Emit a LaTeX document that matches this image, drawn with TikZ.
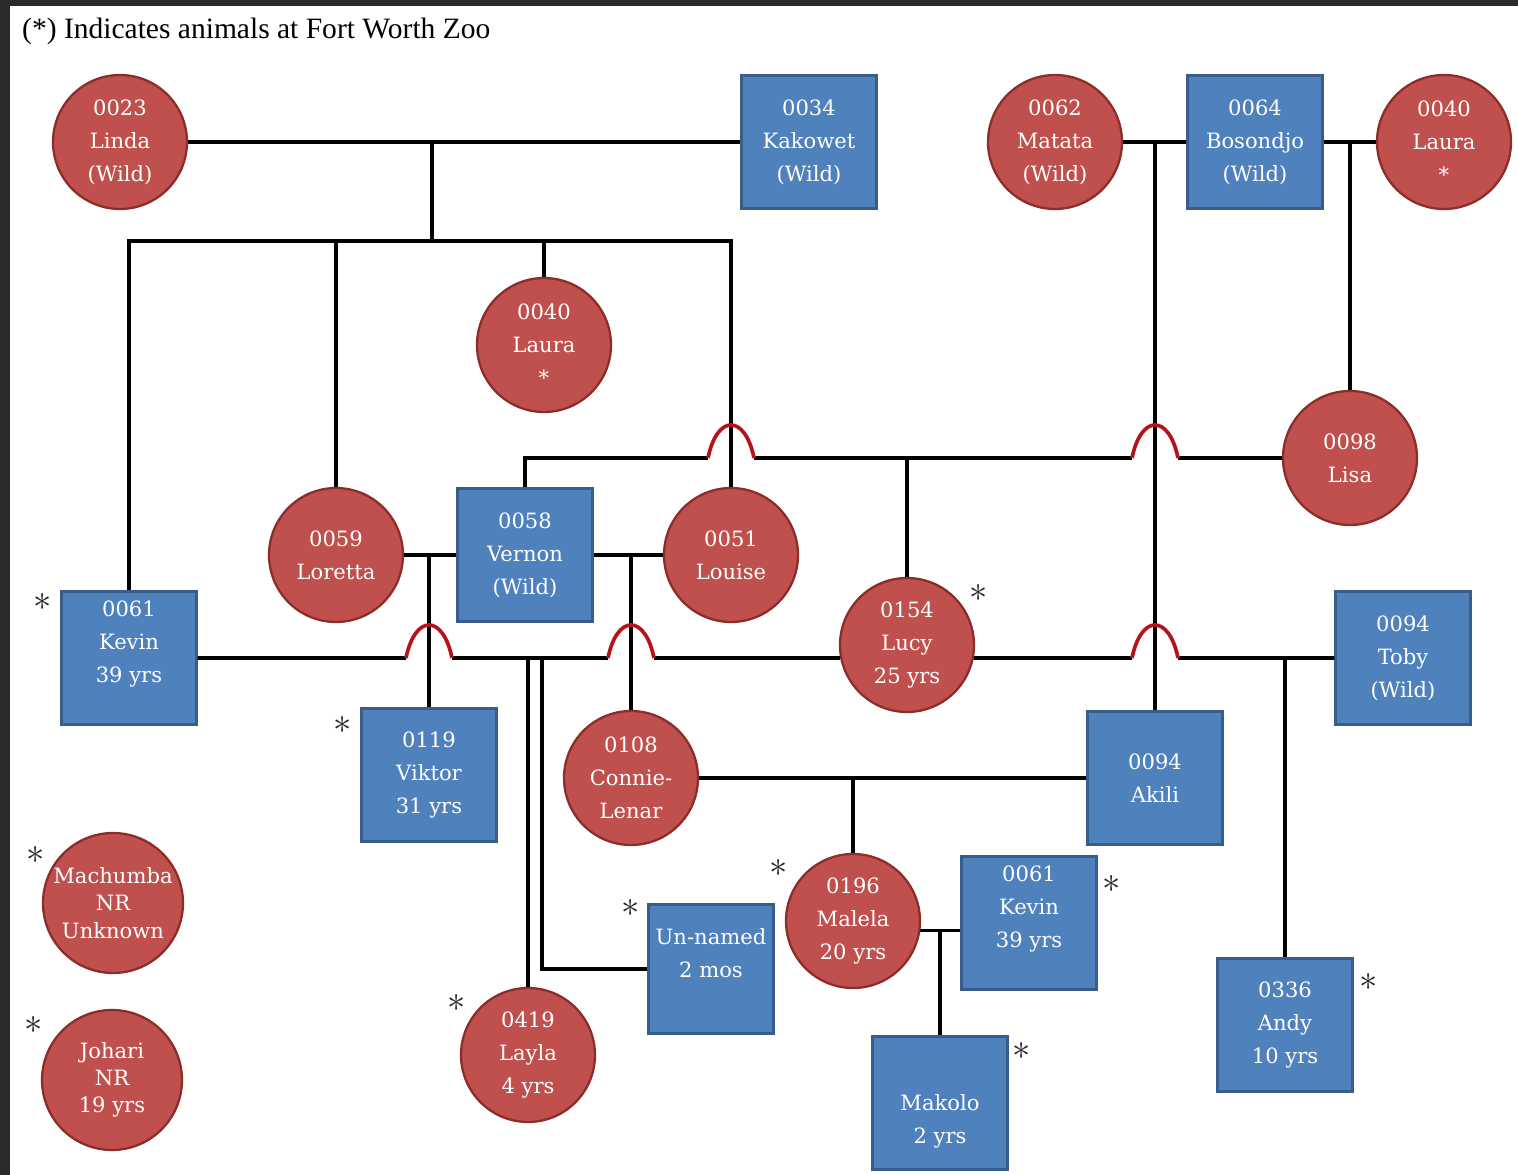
\documentclass[tikz,border=0pt]{standalone}
\usepackage{fontspec}
\setmainfont{Liberation Serif}
\newfontfamily\slabfont{DejaVu Serif}
\usepackage{tikz}
\usetikzlibrary{calc}
\definecolor{femfill}{RGB}{192,80,77}
\definecolor{femline}{RGB}{140,45,42}
\definecolor{malefill}{RGB}{79,129,189}
\definecolor{maleline}{RGB}{56,93,138}
\definecolor{hopred}{RGB}{180,20,25}
\definecolor{edgegray}{RGB}{40,42,44}
\newcommand{\hopover}[1]{\draw[hop] ($(#1)+(-23,0)$) .. controls ($(#1)+(-14,-44)$) and ($(#1)+(14,-44)$) .. ($(#1)+(23,0)$);}

\begin{document}
\begin{tikzpicture}[
  x=0.02cm,y=-0.02cm,
  fem/.style={circle,draw=femline,fill=femfill,line width=1.3pt,minimum size=2.68cm,inner sep=0pt,align=center,text=white,font=\slabfont\fontsize{12}{18.7}\selectfont},
  male/.style={rectangle,draw=maleline,fill=malefill,line width=1.3pt,minimum width=2.7cm,minimum height=2.66cm,inner sep=0pt,align=center,text=white,font=\slabfont\fontsize{12}{18.7}\selectfont},
  kin/.style={draw=black,line width=2.1pt},
  hop/.style={draw=hopred,line width=2.1pt},
  ast/.style={inner sep=0pt,text=black!85,font=\fontsize{20}{20}\selectfont}
    ]
    \useasboundingbox (0,0) rectangle (1518,1175);
    \fill[edgegray] (0,0) rectangle (1518,1175);
    \fill[white] (10,6) rectangle (1518,1175);
    \node[anchor=west,font=\fontsize{16.8}{20}\selectfont] (title) at (16,31) {(*) Indicates animals at Fort Worth Zoo};

    \node[fem] (linda) at (120,142) {0023\\Linda\\(Wild)};
    \node[male] (kakowet) at (809,142) {0034\\Kakowet\\(Wild)};
    \node[fem] (matata) at (1055,142) {0062\\Matata\\(Wild)};
    \node[male] (bosondjo) at (1255,142) {0064\\Bosondjo\\(Wild)};
    \node[fem] (lauraA) at (1444,142) {0040\\Laura\\*};
    \node[fem] (lauraB) at (544,345) {0040\\Laura\\*};
    \node[fem] (lisa) at (1350,458) {0098\\Lisa};
    \node[fem] (loretta) at (336,555) {0059\\Loretta};
    \node[male] (vernon) at (525,555) {0058\\Vernon\\(Wild)};
    \node[fem] (louise) at (731,555) {0051\\Louise};
    \node[male] (kevinA) at (129,658) {0061\\Kevin\\39 yrs\\\mbox{}};
    \node[fem] (lucy) at (907,645) {0154\\Lucy\\25 yrs};
    \node[male] (toby) at (1403,658) {0094\\Toby\\(Wild)};
    \node[male] (viktor) at (429,775) {0119\\Viktor\\31 yrs};
    \node[fem] (connie) at (631,778) {0108\\Connie-\\Lenar};
    \node[male] (akili) at (1155,778) {0094\\Akili};
    \node[fem,minimum size=2.8cm,font=\slabfont\fontsize{12}{15.5}\selectfont] (machumba) at (113,903) {Machumba\\NR\\Unknown};
    \node[fem,minimum size=2.8cm,font=\slabfont\fontsize{12}{15.5}\selectfont] (johari) at (112,1080) {Johari\\NR\\19 yrs};
    \node[fem] (malela) at (853,921) {0196\\Malela\\20 yrs};
    \node[male] (kevinB) at (1029,923) {0061\\Kevin\\39 yrs\\\mbox{}};
    \node[male,minimum width=2.5cm,minimum height=2.58cm] (unnamed) at (711,969) {Un-named\\2 mos\\\mbox{}};
    \node[fem] (layla) at (528,1055) {0419\\Layla\\4 yrs};
    \node[male] (makolo) at (940,1103) {\mbox{}\\[11pt]Makolo\\2 yrs};
    \node[male] (andy) at (1285,1025) {0336\\Andy\\10 yrs};

    \node[ast] (kevinAast) at (43,602) {$\ast$};
    \node[ast] (viktorast) at (343,725) {$\ast$};
    \node[ast] (lucyast) at (979,593) {$\ast$};
    \node[ast] (machumbaast) at (36,855) {$\ast$};
    \node[ast] (johariast) at (34,1025) {$\ast$};
    \node[ast] (malelaast) at (779,868) {$\ast$};
    \node[ast] (kevinBast) at (1112,884) {$\ast$};
    \node[ast] (unnamedast) at (631,908) {$\ast$};
    \node[ast] (laylaast) at (457,1003) {$\ast$};
    \node[ast] (makoloast) at (1022,1051) {$\ast$};
    \node[ast] (andyast) at (1369,982) {$\ast$};

    \coordinate (j0) at (432,142);
    \coordinate (b0) at (432,241);
    \coordinate (j1) at (1155,142);
    \coordinate (j2) at (1350,142);
    \coordinate (j3) at (907,458);
    \coordinate (j4) at (429,555);
    \coordinate (j5) at (631,555);
    \coordinate (j6) at (528,658);
    \coordinate (j7) at (542,658);
    \coordinate (j8) at (1285,658);
    \coordinate (j9) at (853,778);
    \coordinate (j10) at (940,932);
    \coordinate (h1) at (731,458);
    \coordinate (h2) at (1155,458);
    \coordinate (h3) at (429,658);
    \coordinate (h4) at (631,658);
    \coordinate (h5) at (1155,658);

    \path[kin] (linda) edge (kakowet)
    (matata) edge (bosondjo)
    (bosondjo) edge (lauraA)
    (loretta) edge (vernon)
    (vernon) edge (louise)
    (connie) edge (akili)
    (j0) edge (b0)
    (j1) edge (akili)
    (j2) edge (lisa)
    (j3) edge (lucy)
    (j4) edge (viktor)
    (j5) edge (connie)
    (j6) edge (layla)
    (j8) edge (andy)
    (j9) edge (malela)
    (j10) edge (makolo);
    \draw[kin] (kevinA.north) |- (b0) -| (louise.north);
    \draw[kin] (loretta) -- (loretta |- b0);
    \draw[kin] (lauraB) -- (lauraB |- b0);
    \draw[kin] (vernon.north) |- ($(h1)+(-23,0)$) ($(h1)+(23,0)$) -- ($(h2)+(-23,0)$) ($(h2)+(23,0)$) -- (lisa);
    \draw[kin] (kevinA) -- ($(h3)+(-23,0)$) ($(h3)+(23,0)$) -- ($(h4)+(-23,0)$) ($(h4)+(23,0)$) -- (lucy.191);
    \draw[kin] (lucy.-11) -- ($(h5)+(-23,0)$) ($(h5)+(23,0)$) -- (toby);
    \draw[kin] (j7) |- (unnamed);
    \draw[kin] (malela.-8) -- (malela.-8 -| kevinB.west);
    \foreach \h in {h1,h2,h3,h4,h5} {\hopover{\h}}
    \end{tikzpicture}
\end{document}
